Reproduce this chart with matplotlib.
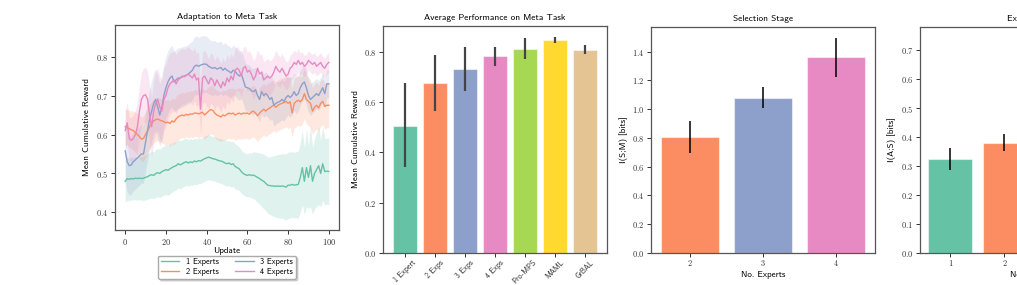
import numpy as np
import matplotlib
matplotlib.use("Agg")
import matplotlib.pyplot as plt

# Set2 palette colours
set2 = ["#66c2a5", "#fc8d62", "#8da0cb", "#e78ac3", "#a6d854", "#ffd92f", "#e5c494"]

# ---- panel 1: adaptation curves (mean and spread per update) ----
updates = list(range(101))
line_labels = ["1 Experts", "2 Experts", "3 Experts", "4 Experts"]

mean_1 = [0.480, 0.487, 0.485, 0.487, 0.486, 0.488, 0.487, 0.488, 0.487, 0.488,
          0.490, 0.492, 0.495, 0.497, 0.495, 0.500, 0.502, 0.500, 0.505, 0.507,
          0.510, 0.508, 0.512, 0.515, 0.518, 0.520, 0.525, 0.522, 0.525, 0.528,
          0.530, 0.527, 0.530, 0.528, 0.532, 0.530, 0.533, 0.532, 0.535, 0.538,
          0.540, 0.542, 0.540, 0.538, 0.537, 0.535, 0.533, 0.532, 0.530, 0.527,
          0.525, 0.527, 0.523, 0.525, 0.518, 0.515, 0.512, 0.505, 0.500, 0.497,
          0.495, 0.497, 0.495, 0.496, 0.493, 0.490, 0.487, 0.483, 0.480, 0.475,
          0.470, 0.469, 0.468, 0.468, 0.467, 0.468, 0.467, 0.468, 0.467, 0.465,
          0.470, 0.470, 0.472, 0.470, 0.471, 0.472, 0.490, 0.515, 0.480, 0.515,
          0.490, 0.520, 0.480, 0.500, 0.510, 0.520, 0.500, 0.525, 0.505, 0.506,
          0.505]
std_1 = [0.055, 0.056, 0.055, 0.055, 0.054, 0.055, 0.056, 0.055, 0.056, 0.057,
         0.058, 0.058, 0.059, 0.060, 0.060, 0.061, 0.062, 0.062, 0.063, 0.063,
         0.064, 0.064, 0.064, 0.063, 0.063, 0.062, 0.062, 0.062, 0.061, 0.061,
         0.060, 0.060, 0.060, 0.059, 0.059, 0.059, 0.058, 0.058, 0.058, 0.058,
         0.058, 0.058, 0.057, 0.057, 0.057, 0.057, 0.057, 0.057, 0.058, 0.058,
         0.058, 0.058, 0.058, 0.058, 0.058, 0.057, 0.056, 0.056, 0.055, 0.055,
         0.055, 0.056, 0.058, 0.060, 0.062, 0.064, 0.066, 0.068, 0.070, 0.071,
         0.072, 0.074, 0.076, 0.078, 0.080, 0.081, 0.082, 0.083, 0.084, 0.085,
         0.085, 0.085, 0.084, 0.084, 0.085, 0.086, 0.090, 0.095, 0.085, 0.100,
         0.080, 0.105, 0.085, 0.090, 0.095, 0.100, 0.085, 0.095, 0.085, 0.085,
         0.085]

mean_2 = [0.620, 0.618, 0.615, 0.612, 0.610, 0.605, 0.600, 0.595, 0.588, 0.590,
          0.600, 0.610, 0.620, 0.628, 0.635, 0.638, 0.640, 0.637, 0.635, 0.633,
          0.630, 0.632, 0.628, 0.635, 0.632, 0.640, 0.645, 0.648, 0.650, 0.648,
          0.652, 0.650, 0.653, 0.652, 0.655, 0.655, 0.653, 0.655, 0.657, 0.650,
          0.655, 0.660, 0.664, 0.662, 0.655, 0.650, 0.648, 0.645, 0.650, 0.648,
          0.652, 0.655, 0.653, 0.655, 0.650, 0.653, 0.655, 0.652, 0.655, 0.654,
          0.655, 0.652, 0.658, 0.660, 0.655, 0.648, 0.655, 0.660, 0.665, 0.660,
          0.665, 0.668, 0.672, 0.675, 0.670, 0.675, 0.678, 0.680, 0.682, 0.685,
          0.680, 0.684, 0.655, 0.680, 0.685, 0.688, 0.684, 0.690, 0.705, 0.690,
          0.685, 0.680, 0.660, 0.670, 0.675, 0.668, 0.680, 0.685, 0.672, 0.675,
          0.675]
std_2 = [0.045, 0.046, 0.047, 0.048, 0.050, 0.052, 0.054, 0.056, 0.057, 0.058,
         0.058, 0.058, 0.057, 0.057, 0.056, 0.056, 0.056, 0.056, 0.057, 0.057,
         0.058, 0.058, 0.058, 0.058, 0.058, 0.058, 0.058, 0.058, 0.058, 0.058,
         0.058, 0.059, 0.059, 0.060, 0.060, 0.060, 0.061, 0.061, 0.062, 0.062,
         0.062, 0.062, 0.062, 0.062, 0.063, 0.063, 0.063, 0.063, 0.064, 0.064,
         0.064, 0.064, 0.065, 0.065, 0.065, 0.065, 0.065, 0.065, 0.065, 0.065,
         0.065, 0.065, 0.066, 0.066, 0.066, 0.066, 0.066, 0.066, 0.066, 0.066,
         0.066, 0.066, 0.066, 0.065, 0.065, 0.065, 0.065, 0.065, 0.065, 0.065,
         0.065, 0.065, 0.062, 0.064, 0.064, 0.064, 0.063, 0.063, 0.064, 0.062,
         0.062, 0.061, 0.060, 0.060, 0.060, 0.059, 0.059, 0.059, 0.058, 0.058,
         0.058]

mean_3 = [0.558, 0.530, 0.520, 0.522, 0.530, 0.535, 0.540, 0.545, 0.550, 0.550,
          0.580, 0.610, 0.640, 0.660, 0.680, 0.690, 0.670, 0.650, 0.670, 0.700,
          0.720, 0.735, 0.745, 0.750, 0.735, 0.740, 0.745, 0.745, 0.748, 0.750,
          0.752, 0.755, 0.760, 0.765, 0.775, 0.778, 0.775, 0.778, 0.780, 0.781,
          0.780, 0.775, 0.772, 0.770, 0.772, 0.768, 0.770, 0.772, 0.765, 0.770,
          0.765, 0.762, 0.758, 0.765, 0.762, 0.755, 0.750, 0.755, 0.740, 0.722,
          0.720, 0.718, 0.712, 0.710, 0.715, 0.700, 0.690, 0.710, 0.700, 0.705,
          0.700, 0.690, 0.695, 0.675, 0.680, 0.683, 0.685, 0.690, 0.685, 0.695,
          0.700, 0.695, 0.700, 0.710, 0.700, 0.705, 0.720, 0.730, 0.735, 0.720,
          0.700, 0.690, 0.695, 0.700, 0.705, 0.700, 0.710, 0.720, 0.705, 0.730,
          0.730]
std_3 = [0.080, 0.078, 0.076, 0.075, 0.075, 0.075, 0.075, 0.075, 0.075, 0.075,
         0.075, 0.076, 0.077, 0.078, 0.078, 0.079, 0.080, 0.080, 0.080, 0.080,
         0.080, 0.080, 0.079, 0.079, 0.078, 0.078, 0.078, 0.077, 0.077, 0.077,
         0.076, 0.076, 0.076, 0.075, 0.075, 0.075, 0.074, 0.074, 0.073, 0.073,
         0.072, 0.071, 0.070, 0.070, 0.069, 0.068, 0.068, 0.067, 0.066, 0.066,
         0.065, 0.065, 0.064, 0.064, 0.063, 0.063, 0.062, 0.062, 0.061, 0.061,
         0.060, 0.060, 0.059, 0.059, 0.058, 0.058, 0.057, 0.057, 0.056, 0.056,
         0.055, 0.055, 0.054, 0.054, 0.053, 0.053, 0.052, 0.052, 0.051, 0.051,
         0.050, 0.050, 0.049, 0.048, 0.047, 0.046, 0.045, 0.045, 0.044, 0.043,
         0.042, 0.041, 0.040, 0.040, 0.039, 0.038, 0.037, 0.037, 0.036, 0.036,
         0.035]

mean_4 = [0.610, 0.630, 0.590, 0.585, 0.590, 0.600, 0.620, 0.660, 0.690, 0.700,
          0.702, 0.690, 0.650, 0.620, 0.660, 0.680, 0.690, 0.670, 0.660, 0.690,
          0.700, 0.720, 0.730, 0.735, 0.740, 0.730, 0.740, 0.745, 0.750, 0.748,
          0.752, 0.755, 0.750, 0.745, 0.755, 0.740, 0.745, 0.665, 0.745, 0.750,
          0.740, 0.730, 0.745, 0.740, 0.725, 0.740, 0.730, 0.720, 0.735, 0.725,
          0.745, 0.735, 0.750, 0.740, 0.765, 0.770, 0.765, 0.750, 0.770, 0.775,
          0.760, 0.765, 0.755, 0.740, 0.750, 0.770, 0.755, 0.760, 0.740, 0.745,
          0.750, 0.745, 0.750, 0.760, 0.775, 0.765, 0.760, 0.770, 0.760, 0.750,
          0.755, 0.770, 0.775, 0.785, 0.780, 0.790, 0.780, 0.785, 0.775, 0.780,
          0.790, 0.785, 0.780, 0.785, 0.775, 0.780, 0.785, 0.775, 0.770, 0.780,
          0.785]
std_4 = [0.050, 0.052, 0.055, 0.058, 0.060, 0.062, 0.064, 0.066, 0.068, 0.070,
         0.070, 0.072, 0.074, 0.076, 0.078, 0.079, 0.080, 0.080, 0.080, 0.080,
         0.080, 0.079, 0.078, 0.077, 0.076, 0.075, 0.074, 0.073, 0.072, 0.071,
         0.070, 0.070, 0.069, 0.069, 0.068, 0.068, 0.067, 0.065, 0.067, 0.066,
         0.066, 0.065, 0.065, 0.064, 0.064, 0.063, 0.063, 0.062, 0.062, 0.061,
         0.060, 0.059, 0.058, 0.058, 0.057, 0.056, 0.055, 0.054, 0.053, 0.052,
         0.051, 0.050, 0.050, 0.049, 0.049, 0.048, 0.048, 0.047, 0.047, 0.046,
         0.045, 0.044, 0.043, 0.042, 0.041, 0.040, 0.039, 0.038, 0.037, 0.036,
         0.035, 0.034, 0.033, 0.032, 0.031, 0.030, 0.029, 0.028, 0.027, 0.026,
         0.025, 0.025, 0.025, 0.025, 0.025, 0.025, 0.025, 0.025, 0.025, 0.025,
         0.025]

# ---- panel 2: average performance ----
methods = ["1 Expert", "2 Exps", "3 Exps", "4 Exps", "Pro-MPS", "MAML", "GrBAL"]
perf_mean = [0.505, 0.675, 0.730, 0.782, 0.812, 0.845, 0.808]
perf_low = [0.340, 0.565, 0.645, 0.745, 0.770, 0.835, 0.790]
perf_high = [0.675, 0.785, 0.817, 0.817, 0.853, 0.857, 0.826]

# ---- panel 3: selection stage ----
sel_experts = ["2", "3", "4"]
sel_mi = [0.805, 1.080, 1.360]
sel_err = [0.110, 0.072, 0.138]

# ---- panel 4: execution stage (partly outside the picture) ----
exe_experts = ["1", "2", "3", "4"]
exe_mi = [0.325, 0.380, 0.450, 0.520]
exe_err = [0.038, 0.029, 0.035, 0.040]

plt.rcParams["font.family"] = "cmss10"
plt.rcParams["axes.formatter.use_mathtext"] = True
plt.rcParams["axes.edgecolor"] = "#555555"
plt.rcParams["axes.linewidth"] = 0.9

W, H = 1017, 285
fig = plt.figure(figsize=(W / 100, H / 100), dpi=100)


def place(left, top, right, bottom):
    # pixel box -> figure fraction
    return [left / W, (H - bottom) / H, (right - left) / W, (bottom - top) / H]


def style(ax):
    ax.tick_params(labelsize=6, length=3, width=0.7, pad=2, colors="#333333")
    for t in ax.get_xticklabels() + ax.get_yticklabels():
        t.set_fontfamily("cmr10")


title_fs = 6.7
label_fs = 6.5

# panel 1
ax1 = fig.add_axes(place(115, 25, 339, 230))
for i, (m, s) in enumerate([(mean_1, std_1), (mean_2, std_2), (mean_3, std_3), (mean_4, std_4)]):
    m = np.array(m)
    s = np.array(s)
    ax1.fill_between(updates, m - s, m + s, color=set2[i], alpha=0.2, linewidth=0)
    ax1.plot(updates, m, color=set2[i], lw=1.0, label=line_labels[i])
ax1.set_ylim(0.355, 0.881)
ax1.set_yticks([0.4, 0.5, 0.6, 0.7, 0.8])
ax1.set_xticks([0, 20, 40, 60, 80, 100])
ax1.set_title("Adaptation to Meta Task", fontsize=title_fs, pad=4)
ax1.set_xlabel("Update", fontsize=label_fs, labelpad=0)
ax1.set_ylabel("Mean Cumulative Reward", fontsize=label_fs, labelpad=3)
style(ax1)
ax1.legend(loc="upper center", bbox_to_anchor=(0.5, -0.105), ncol=2, fontsize=6,
           fancybox=True, shadow={"color": "0.75", "alpha": 0.6, "ox": 1.5, "oy": -1.5},
           handlelength=2.2, columnspacing=2.0, borderpad=0.3, labelspacing=0.25,
           edgecolor="#aaaaaa")

# panel 2
ax2 = fig.add_axes(place(383, 26, 607, 253))
x2 = np.arange(len(methods))
ax2.bar(x2, perf_mean, width=0.8, color=set2, edgecolor=(1, 1, 1, 0.5), linewidth=0.8)
ax2.vlines(x2, perf_low, perf_high, color="#444444", lw=1.6)
ax2.set_xlim(-0.73, len(methods) - 0.27)
ax2.set_ylim(0, 0.902)
ax2.set_yticks([0.0, 0.2, 0.4, 0.6, 0.8])
ax2.set_xticks(x2)
ax2.set_xticklabels(methods, rotation=45, ha="center")
ax2.set_title("Average Performance on Meta Task", fontsize=title_fs, pad=4)
ax2.set_ylabel("Mean Cumulative Reward", fontsize=label_fs, labelpad=3)
style(ax2)
ax2.tick_params(axis="x", pad=1)
for t in ax2.get_xticklabels():
    t.set_fontfamily("cmss10")
    t.set_fontsize(5.6)

# panel 3
ax3 = fig.add_axes(place(651, 27, 875, 253))
x3 = np.arange(len(sel_experts))
ax3.bar(x3, sel_mi, width=0.8, color=set2[1:4], edgecolor=(1, 1, 1, 0.5), linewidth=0.8)
ax3.errorbar(x3, sel_mi, yerr=sel_err, fmt="none", ecolor="black", elinewidth=1.1)
ax3.set_xlim(-0.535, len(sel_experts) - 0.46)
ax3.set_ylim(0, 1.572)
ax3.set_yticks([0.0, 0.2, 0.4, 0.6, 0.8, 1.0, 1.2, 1.4])
ax3.set_xticks(x3)
ax3.set_xticklabels(sel_experts)
ax3.set_title("Selection Stage", fontsize=title_fs, pad=4)
ax3.set_xlabel("No. Experts", fontsize=label_fs, labelpad=2)
ax3.set_ylabel("I(S;M) [bits]", fontsize=label_fs, labelpad=3)
style(ax3)

# panel 4
ax4 = fig.add_axes(place(920, 27, 1144, 253))
x4 = np.arange(len(exe_experts))
ax4.bar(x4, exe_mi, width=0.8, color=set2[0:4], edgecolor=(1, 1, 1, 0.5), linewidth=0.8)
ax4.errorbar(x4, exe_mi, yerr=exe_err, fmt="none", ecolor="black", elinewidth=1.1)
ax4.set_xlim(-0.553, len(exe_experts) - 0.43)
ax4.set_ylim(0, 0.78)
ax4.set_yticks([0.0, 0.1, 0.2, 0.3, 0.4, 0.5, 0.6, 0.7])
ax4.set_xticks(x4)
ax4.set_xticklabels(exe_experts)
ax4.set_title("Expert Stage", fontsize=title_fs, pad=4)
ax4.set_xlabel("No. Experts", fontsize=label_fs, labelpad=2)
ax4.set_ylabel("I(A;S) [bits]", fontsize=label_fs, labelpad=3)
style(ax4)

fig.savefig("out.png", dpi=100)
